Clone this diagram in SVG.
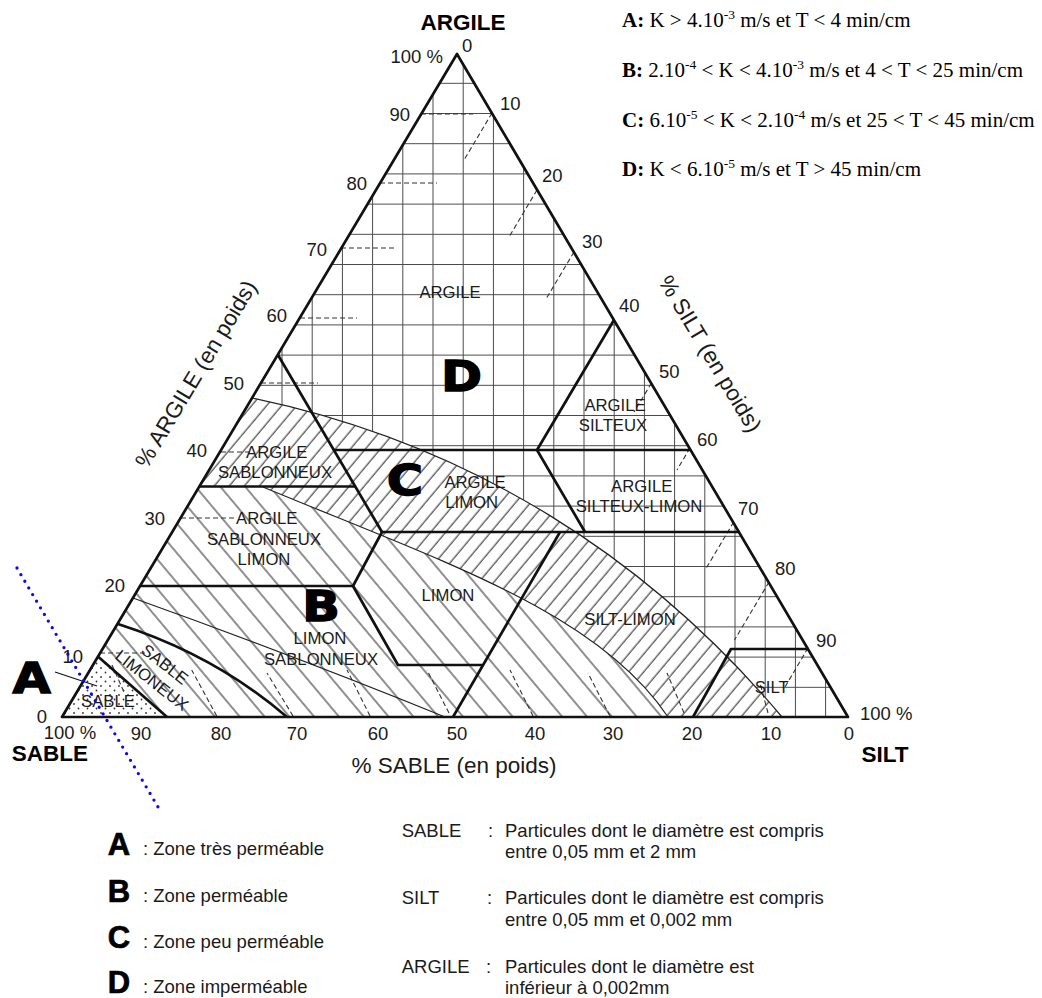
<svg xmlns="http://www.w3.org/2000/svg" width="1042" height="998" viewBox="0 0 1042 998">
<style>
.t{font-family:"Liberation Sans",Arial,sans-serif;fill:#1a1a1a}
.lbl{font-size:16.7px;text-anchor:middle}
.num{font-size:18.5px}
.big{font-family:"DejaVu Sans","Liberation Sans",sans-serif;font-weight:bold;font-size:43px;text-anchor:middle;fill:#000;stroke:#000;stroke-width:1.4}
.ax{font-size:22.5px}
.axb{font-size:22.5px;font-weight:bold;fill:#000}
.leg{font-size:18.5px}
.legL{font-size:31px;font-weight:bold;text-anchor:middle;fill:#000;stroke:#000;stroke-width:0.7}
.f{font-family:"Liberation Serif","Times New Roman",serif;font-size:21px;fill:#000}
.sup{font-size:13.5px}
.thick{fill:none;stroke:#111;stroke-width:2.7;stroke-linejoin:round}
.thin{fill:none;stroke:#222;stroke-width:1.2}
.dash{fill:none;stroke:#333;stroke-width:1.1;stroke-dasharray:5 3}
</style>
<defs>
<pattern id="grid" patternUnits="userSpaceOnUse" x="417.9" y="68.2" width="30.2" height="30.2">
<rect width="30.2" height="30.2" fill="#fff"/>
<path d="M15.1,0V30.2M0,15.1H30.2" stroke="#4a4a4a" stroke-width="1" fill="none"/>
</pattern>
<pattern id="hatchC" patternUnits="userSpaceOnUse" width="11.5" height="11.5" patternTransform="rotate(40)">
<rect width="11.5" height="11.5" fill="#fff"/>
<line x1="5" y1="0" x2="5" y2="11.5" stroke="#333" stroke-width="1.1"/>
</pattern>
<pattern id="hatchB" patternUnits="userSpaceOnUse" width="19" height="19" patternTransform="rotate(-40)">
<rect width="19" height="19" fill="#fff"/>
<line x1="8" y1="0" x2="8" y2="19" stroke="#333" stroke-width="1.1"/>
</pattern>
<pattern id="dots" patternUnits="userSpaceOnUse" width="9" height="9">
<rect width="9" height="9" fill="#fff"/>
<circle cx="2" cy="2" r="0.9" fill="#333"/>
<circle cx="6.5" cy="6.5" r="0.9" fill="#333"/>
</pattern>
</defs>
<rect width="1042" height="998" fill="#fff"/>

<g id="zones">
<path id="zoneD" d="M62,717 L457,54 L848,717 Z" fill="url(#grid)"/>
<path id="zoneC" d="M252,398 C473,444 650,560 782,717 L668,717 C598,612 443,562 263,487 L199.5,487 Z" fill="url(#hatchC)"/>
<path id="zoneB" d="M199.5,487 L263,487 C443,562 598,612 668,717 L167,717 L98.5,657 Z" fill="url(#hatchB)"/>
<path id="zoneA" d="M62,717 L98.5,657 L167,717 Z" fill="url(#dots)"/>
</g>

<g id="ticks">
<path class="dash" d="M421,114H473 M380,183H437 M341,248H397 M300,318H357 M261,383H318 M221,452H250 M181,518H236 M100,653H145"/>
<path class="dash" d="M492,113L464.6,159 M537,190L509.6,236 M574,252L546.6,298 M651.5,383L634,412 M690,448L677,470 M733.7,522L706.3,568 M769,582L734.5,640 M808,648L785,687"/>
<path class="dash" d="M216.7,716L191.7,670 M293,716L267,673 M370,716L347,670 M449,713L427,670 M533,716L510,670 M610,716L588,673 M684,713L667,673 M768,713L760,683 M112,665L124,692"/>
</g>

<g id="curves">
<path class="thin" d="M252,398 C473,444 650,560 782,717"/>
<path class="thin" d="M263,487 C443,562 598,612 668,717"/>
<path class="thin" d="M133,598 C200,622 330,670 445,717"/>
</g>

<g id="boundaries">
<path class="thick" d="M278,355 L382,532"/>
<path class="thick" d="M334,450 L691,450"/>
<path class="thick" d="M614,320 L537,450 L585,532"/>
<path class="thick" d="M200,486.5 L355,486.5"/>
<path class="thick" d="M140,586 L353,586 L382,532"/>
<path class="thick" d="M353,586 L398,665 L482,665"/>
<path class="thick" d="M453,717 L560,532"/>
<path class="thick" d="M382,532 L740,532"/>
<path class="thick" d="M693,717 L731,649 L809,649"/>
<path class="thick" d="M118,624 Q215,655 287,717"/>
<path class="thick" d="M98.5,657 L167,717"/>
<path class="thick" d="M62,717 L457,54 L848,717 Z" stroke-width="2.9"/>
</g>

<g id="class-labels" class="t lbl">
<text x="450" y="297.5">ARGILE</text>
<text x="615" y="411">ARGILE</text>
<text x="613" y="431">SILTEUX</text>
<text x="641.7" y="492">ARGILE</text>
<text x="639" y="511.7">SILTEUX-LIMON</text>
<text x="630" y="625">SILT-LIMON</text>
<text x="771.7" y="692.7">SILT</text>
<text x="448" y="601">LIMON</text>
<text x="475" y="487.7">ARGILE</text>
<text x="471.7" y="507.7">LIMON</text>
<text x="320" y="644">LIMON</text>
<text x="321" y="664.5">SABLONNEUX</text>
<text x="276.7" y="457.7">ARGILE</text>
<text x="275" y="477.7">SABLONNEUX</text>
<text x="266.7" y="523.7">ARGILE</text>
<text x="264" y="545">SABLONNEUX</text>
<text x="264" y="565">LIMON</text>
<text x="108" y="707">SABLE</text>
<text transform="translate(165,664) rotate(38)" y="6">SABLE</text>
<text transform="translate(152,680) rotate(38)" y="6">LIMONEUX</text>
</g>

<g id="zone-letters">
<text class="big" transform="translate(461.5,391) scale(1.15,1)">D</text>
<text class="big" transform="translate(405,495) scale(1.15,1)">C</text>
<text class="big" transform="translate(321,621) scale(1.15,1)">B</text>
<text class="big" transform="translate(31.7,693) scale(1.15,1)">A</text>
<line x1="55" y1="672" x2="97" y2="686" stroke="#111" stroke-width="1.2"/>
</g>

<g id="pointer">
<line x1="17" y1="568" x2="161" y2="812" stroke="#0a0aee" stroke-width="3.3" stroke-linecap="round" stroke-dasharray="0 7.7"/>
</g>

<g id="axis-left" class="t num" text-anchor="end">
<text x="443" y="63">100 %</text>
<text x="410" y="121">90</text>
<text x="367" y="190">80</text>
<text x="327" y="256">70</text>
<text x="287" y="322">60</text>
<text x="244" y="390">50</text>
<text x="207" y="457">40</text>
<text x="165" y="525">30</text>
<text x="125" y="592">20</text>
<text x="83" y="663">10</text>
<text x="47" y="723">0</text>
</g>

<g id="axis-right" class="t num">
<text x="462" y="52">0</text>
<text x="500" y="110">10</text>
<text x="542" y="182">20</text>
<text x="582" y="248">30</text>
<text x="619" y="312">40</text>
<text x="659" y="378">50</text>
<text x="697" y="446">60</text>
<text x="738" y="515">70</text>
<text x="775" y="575">80</text>
<text x="816" y="647">90</text>
<text x="860" y="720">100 %</text>
</g>

<g id="axis-bottom" class="t num" text-anchor="middle">
<text x="70" y="739">100 %</text>
<text x="141" y="740">90</text>
<text x="221" y="740">80</text>
<text x="297" y="740">70</text>
<text x="378" y="740">60</text>
<text x="457" y="740">50</text>
<text x="535" y="740">40</text>
<text x="613" y="740">30</text>
<text x="692" y="740">20</text>
<text x="771" y="740">10</text>
<text x="849" y="740">0</text>
</g>

<g id="axis-titles">
<text class="t axb" x="463" y="30" text-anchor="middle">ARGILE</text>
<text class="t axb" x="50" y="761" text-anchor="middle">SABLE</text>
<text class="t axb" x="885" y="762" text-anchor="middle">SILT</text>
<text class="t ax" x="454" y="773" text-anchor="middle">% SABLE (en poids)</text>
<text class="t ax" transform="translate(196,374) rotate(-59)" text-anchor="middle" dominant-baseline="central">% ARGILE (en poids)</text>
<text class="t ax" transform="translate(710,354) rotate(59)" text-anchor="middle" dominant-baseline="central">% SILT (en poids)</text>
</g>

<g id="formulas" class="f">
<text x="622" y="27"><tspan font-weight="bold">A:</tspan> K &gt; 4.10<tspan class="sup" dy="-8">-3</tspan><tspan dy="8"> m/s et T &lt; 4 min/cm</tspan></text>
<text x="622" y="77"><tspan font-weight="bold">B:</tspan> 2.10<tspan class="sup" dy="-8">-4</tspan><tspan dy="8"> &lt; K &lt; 4.10</tspan><tspan class="sup" dy="-8">-3</tspan><tspan dy="8"> m/s et 4 &lt; T &lt; 25 min/cm</tspan></text>
<text x="622" y="127"><tspan font-weight="bold">C:</tspan> 6.10<tspan class="sup" dy="-8">-5</tspan><tspan dy="8"> &lt; K &lt; 2.10</tspan><tspan class="sup" dy="-8">-4</tspan><tspan dy="8"> m/s et 25 &lt; T &lt; 45 min/cm</tspan></text>
<text x="622" y="176"><tspan font-weight="bold">D:</tspan> K &lt; 6.10<tspan class="sup" dy="-8">-5</tspan><tspan dy="8"> m/s et T &gt; 45 min/cm</tspan></text>
</g>

<g id="legend-zones">
<text class="t legL" x="119" y="855">A</text>
<text class="t leg" x="143" y="855">: Zone très perméable</text>
<text class="t legL" x="119" y="902">B</text>
<text class="t leg" x="143" y="902">: Zone perméable</text>
<text class="t legL" x="119" y="948">C</text>
<text class="t leg" x="143" y="948">: Zone peu perméable</text>
<text class="t legL" x="119" y="993">D</text>
<text class="t leg" x="143" y="993">: Zone imperméable</text>
</g>

<g id="legend-particles" class="t leg">
<text x="401.7" y="836.7">SABLE</text>
<text x="488" y="836.7">:</text>
<text x="505" y="836.7">Particules dont le diamètre est compris</text>
<text x="505" y="858">entre 0,05 mm et 2 mm</text>
<text x="401.7" y="904">SILT</text>
<text x="487" y="904">:</text>
<text x="505" y="904">Particules dont le diamètre est compris</text>
<text x="505" y="926">entre 0,05 mm et 0,002 mm</text>
<text x="401.7" y="972.5">ARGILE</text>
<text x="486" y="972.5">:</text>
<text x="505" y="972.5">Particules dont le diamètre est</text>
<text x="505" y="994">inférieur à 0,002mm</text>
</g>
</svg>
